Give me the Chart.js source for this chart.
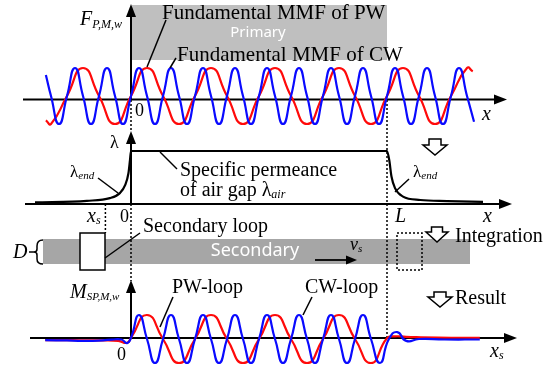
<!DOCTYPE html>
<html>
<head>
<meta charset="utf-8">
<script src="https://cdn.jsdelivr.net/npm/chart.js@4.4.1/dist/chart.umd.min.js"></script>
<style>
html,body{margin:0;padding:0;background:#fff;}
#wrap{width:559px;height:370px;}
</style>
</head>
<body>
<div id="wrap"><canvas id="c" width="559" height="370" style="width:559px;height:370px"></canvas></div>
<script>
// ---- Data (x measured in pole-pitch periods of the PW field, origin 0, primary end L = 4) ----
const L_END = 4;
const XS_POS = -0.4;

// Top panel: fundamental MMF of CW (blue) and PW (red)
const cwMmfX = [-1.33,-1.25,-1.125,-1,-0.875,-0.75,-0.625,-0.5,-0.375,-0.25,-0.125,0,0.125,0.25,0.375,0.5,0.625,0.75,0.875,1,1.125,1.25,1.375,1.5,1.625,1.75,1.875,2,2.125,2.25,2.375,2.5,2.625,2.75,2.875,3,3.125,3.25,3.375,3.5,3.625,3.75,3.875,4,4.125,4.25,4.375,4.5,4.625,4.75,4.875,5,5.125,5.25,5.36];
const cwMmfY = [0.75,0,-1,0,1,0,-1,0,1,0,-1,0,1,0,-1,0,1,0,-1,0,1,0,-1,0,1,0,-1,0,1,0,-1,0,1,0,-1,0,1,0,-1,0,1,0,-1,0,1,0,-1,0,1,0,-1,0,1,0,-0.92];
const pwMmfX = [-1.33,-1.25,-1,-0.75,-0.5,-0.25,0,0.25,0.5,0.75,1,1.25,1.5,1.75,2,2.25,2.5,2.75,3,3.25,3.5,3.75,4,4.25,4.5,4.75,5,5.25,5.34];
const pwMmfY = [-0.87,-1,0,1,0,-1,0,1,0,-1,0,1,0,-1,0,1,0,-1,0,1,0,-1,0,1,0,-1,0,1,0.88];

// Middle panel: specific permeance of air gap (normalised)
const lambdaX = [-1.5,-0.69,-0.33,-0.17,-0.09,-0.04,-0.016,0,4,4.035,4.07,4.125,4.25,4.52,4.94,5.5];
const lambdaY = [0.03,0.06,0.11,0.21,0.36,0.58,0.83,1,1,0.83,0.52,0.30,0.14,0.075,0.055,0.04];

// Bottom panel: resulting mutual inductance of secondary loop
const cwLoopX = [-1.34,-1.0,-0.6,-0.3,-0.15,-0.06,0,0.125,0.25,0.375,0.5,0.625,0.75,0.875,1,1.125,1.25,1.375,1.5,1.625,1.75,1.875,2,2.125,2.25,2.375,2.5,2.625,2.75,2.875,3,3.125,3.25,3.375,3.5,3.625,3.75,3.89,4.03,4.16,4.3,4.5,4.9,5.45];
const cwLoopY = [-0.05,-0.06,-0.08,-0.03,-0.02,-0.17,0.05,1,0,-1,0,1,0,-1,0,1,0,-1,0,1,0,-1,0,1,0,-1,0,1,0,-1,0,1,0,-1,0,1,0,-1,0,0.29,-0.08,0,-0.02,-0.02];
const pwLoopX = [-1.34,-0.9,-0.5,-0.2,-0.06,0,0.25,0.5,0.75,1,1.25,1.5,1.75,2,2.25,2.5,2.75,3,3.25,3.5,3.75,4.0,4.12,4.3,4.8,5.45];
const pwLoopY = [-0.05,-0.05,-0.06,-0.08,-0.16,0.05,1,0,-1,0,1,0,-1,0,1,0,-1,0,1,0,-1,0.03,0.11,0.09,0.06,0.05];

const BLUE = '#0a0aff';
const RED = '#ff0a0a';
const SERIF = '"Liberation Serif","Times New Roman",serif';
const SANS = '"Noto Sans","Open Sans",sans-serif';

function pts(xs, ys){ return xs.map((x,i)=>({x:x, y:ys[i]})); }
// scale range so that value 0 sits at pixel p0 and value 1 is a pixels above it
function rng(p0, a, H){ return {min:(p0-H)/a, max:p0/a}; }
const H = 370;
const rF = rng(96, 28, H), rL = rng(204, 53, H), rM = rng(339, 24, H);

function ln(ctx,x1,y1,x2,y2,w,dash){
  ctx.save(); ctx.beginPath(); ctx.lineWidth=w||1.5; ctx.strokeStyle='#000';
  if(dash) ctx.setLineDash(dash);
  ctx.moveTo(x1,y1); ctx.lineTo(x2,y2); ctx.stroke(); ctx.restore();
}
function head(ctx,tx,ty,dir,len,half){
  ctx.save(); ctx.fillStyle='#000'; ctx.beginPath();
  if(dir==='up'){ ctx.moveTo(tx,ty); ctx.lineTo(tx-half,ty+len); ctx.lineTo(tx+half,ty+len); }
  else if(dir==='right'){ ctx.moveTo(tx,ty); ctx.lineTo(tx-len,ty-half); ctx.lineTo(tx-len,ty+half); }
  ctx.closePath(); ctx.fill(); ctx.restore();
}
function hollow(ctx,cx,top,bot,halfW,stemHalf,stemH){
  ctx.save(); ctx.beginPath(); ctx.lineWidth=1.5; ctx.strokeStyle='#000'; ctx.fillStyle='#fff';
  ctx.moveTo(cx-stemHalf,top); ctx.lineTo(cx+stemHalf,top); ctx.lineTo(cx+stemHalf,top+stemH);
  ctx.lineTo(cx+halfW,top+stemH); ctx.lineTo(cx,bot); ctx.lineTo(cx-halfW,top+stemH);
  ctx.lineTo(cx-stemHalf,top+stemH); ctx.closePath(); ctx.fill(); ctx.stroke(); ctx.restore();
}
function txt(ctx,s,x,y,font,color,align,base){
  ctx.save(); ctx.font=font; ctx.fillStyle=color||'#000'; ctx.textAlign=align||'left';
  ctx.textBaseline=base||'alphabetic'; ctx.fillText(s,x,y); const w=ctx.measureText(s).width; ctx.restore(); return w;
}
function sub(ctx,main,s,x,y,mf,sf,dy){
  const w=txt(ctx,main,x,y,mf); txt(ctx,s,x+w,y+(dy||2),sf);
}

const diagram = {
  id:'diagram',
  beforeDatasetsDraw(chart){
    const ctx=chart.ctx, xs=chart.scales.x;
    const x0=xs.getPixelForValue(0), xL=xs.getPixelForValue(L_END), xS=xs.getPixelForValue(XS_POS);
    // grey regions
    ctx.save();
    ctx.fillStyle='#bfbfbf'; ctx.fillRect(x0+1,5,xL-x0-1,55);
    ctx.fillStyle='#a6a6a6'; ctx.fillRect(43,239,427,25);
    ctx.restore();
    // dotted guides
    ln(ctx,x0,100,x0,132,1.5,[2,2]);
    ln(ctx,x0,204,x0,281,1.5,[2,2]);
    ln(ctx,xL,100,xL,338,1.5,[2,2]);
    ln(ctx,xS,204,xS,233,1.5,[2,2]);
    // axes
    ln(ctx,23,99.5,497,99.5,2); head(ctx,507,99.5,'right',13,5);
    ln(ctx,x0,99.5,x0,14,2); head(ctx,x0,4,'up',13,5);
    ln(ctx,25,204,502,204,2); head(ctx,512,204,'right',13,5);
    ln(ctx,x0,204,x0,140,2); head(ctx,x0,131,'up',13,5);
    ln(ctx,30,338,507,338,2); head(ctx,517,338,'right',13,5);
    ln(ctx,x0,338,x0,290,2); head(ctx,x0,280,'up',13,5);
  },
  afterDatasetsDraw(chart){
    const ctx=chart.ctx;
    const R='20px '+SERIF, R2='21px '+SERIF, I='italic 20px '+SERIF, IS='italic 12px '+SERIF, IS2='italic 11px '+SERIF;
    // top panel
    txt(ctx,'Fundamental MMF of PW',162,19,R2);
    txt(ctx,'Primary',258,33,'15px '+SANS,'#fff','center','middle');
    txt(ctx,'Fundamental MMF of CW',177,61,R2);
    ln(ctx,147,67,166,20,1.5); ln(ctx,170,68,176,58,1.5);
    sub(ctx,'F','P,M,w',80,25,I,IS,3);
    txt(ctx,'0',135,116,'18px '+SERIF);
    txt(ctx,'x',482,120,I);
    // lambda panel
    txt(ctx,'λ',110,148,'18px '+SERIF);
    sub(ctx,'λ','end',70,177,'17px '+SERIF,IS2,2);
    sub(ctx,'λ','end',413,177,'17px '+SERIF,IS2,2);
    ln(ctx,98,178,118,193,1.5); ln(ctx,409,179,395,192,1.5);
    txt(ctx,'Specific permeance',180,176,R);
    sub(ctx,'of air gap λ','air',180,196,R,IS,2);
    ln(ctx,160,152,177,169,1.5);
    sub(ctx,'x','s',87,222,I,IS,2);
    txt(ctx,'0',120,222,'18px '+SERIF);
    txt(ctx,'L',395,222,I);
    txt(ctx,'x',483,222,I);
    hollow(ctx,435,139,155,12,6,6);
    // secondary
    ctx.save(); ctx.fillStyle='#fff'; ctx.fillRect(80,233,25,37); ctx.restore();
    ctx.save(); ctx.lineWidth=1.5; ctx.strokeStyle='#000'; ctx.strokeRect(80,233,25,37); ctx.restore();
    ctx.save(); ctx.lineWidth=1.5; ctx.strokeStyle='#000'; ctx.setLineDash([2,2]); ctx.strokeRect(397,233,25,37); ctx.restore();
    txt(ctx,'Secondary',255,251,'18px '+SANS,'#fff','center','middle');
    ln(ctx,105,258,140,233,1.5);
    txt(ctx,'Secondary loop',143,232,R);
    txt(ctx,'D',13,258,I);
    ln(ctx,29,252,34,252,1.5);
    ctx.save(); ctx.lineWidth=1.5; ctx.strokeStyle='#000'; ctx.beginPath();
    ctx.moveTo(43,240); ctx.quadraticCurveTo(37,240,37,246); ctx.lineTo(37,249); ctx.quadraticCurveTo(37,252,34,252);
    ctx.quadraticCurveTo(37,252,37,255); ctx.lineTo(37,259); ctx.quadraticCurveTo(37,264,43,264); ctx.stroke(); ctx.restore();
    ln(ctx,315,260,347,260,1.8); head(ctx,357,260,'right',11,4.5);
    sub(ctx,'v','s',350,250,'italic 18px '+SERIF,IS2,2);
    hollow(ctx,437,227,242,11,5.5,5);
    txt(ctx,'Integration',455,242,R);
    hollow(ctx,440,292,307,12,6,5);
    txt(ctx,'Result',455,304,R);
    // bottom panel
    sub(ctx,'M','SP,M,w',70,298,I,IS2,2);
    txt(ctx,'0',117,360,'18px '+SERIF);
    sub(ctx,'x','s',490,357,I,IS,2);
    txt(ctx,'PW-loop',172,293,R);
    txt(ctx,'CW-loop',305,293,R);
    ln(ctx,160,327,173,297,1.5); ln(ctx,303,315,312,297,1.5);
  }
};

const ds = (data, color, axis, extra) => Object.assign({data, borderColor:color, borderWidth:2.2, pointRadius:0, showLine:true, fill:false, yAxisID:axis, tension:0.55}, extra||{});

new Chart(document.getElementById('c'), {
  type:'scatter',
  data:{datasets:[
    ds(pts(cwMmfX,cwMmfY),BLUE,'yF'),
    ds(pts(pwMmfX,pwMmfY),RED,'yF'),
    ds(pts(lambdaX,lambdaY),'#000','yL',{cubicInterpolationMode:'monotone',borderWidth:2.2}),
    ds(pts(cwLoopX,cwLoopY),BLUE,'yM'),
    ds(pts(pwLoopX,pwLoopY),RED,'yM')
  ]},
  options:{
    responsive:false, animation:false, devicePixelRatio:1,
    layout:{padding:0},
    plugins:{legend:{display:false},tooltip:{enabled:false},title:{display:false}},
    scales:{
      x:{type:'linear',display:false,min:-131/64,max:428/64},
      yF:{type:'linear',display:false,min:rF.min,max:rF.max},
      yL:{type:'linear',display:false,min:rL.min,max:rL.max},
      yM:{type:'linear',display:false,min:rM.min,max:rM.max}
    }
  },
  plugins:[diagram]
});
</script>
</body>
</html>
